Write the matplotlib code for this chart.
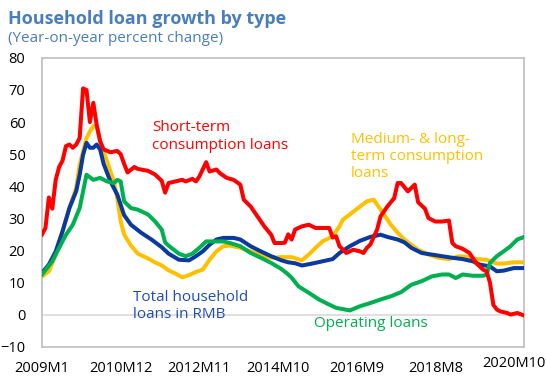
import numpy as np
import matplotlib
matplotlib.use("Agg")
import matplotlib.pyplot as plt

plt.rcParams['font.family'] = ['Open Sans', 'DejaVu Sans']

# months counted from 2009M1 (0) to 2020M10 (141)
tick_pos = [0, 23, 46, 69, 92, 115]
tick_labels = ['2009M1', '2010M12', '2012M11', '2014M10', '2016M9', '2018M8']
last_label = '2020M10'

short_m = [0, 1, 2, 3, 4, 5, 6, 7, 8, 9, 10, 11, 12, 13, 14, 15, 16, 17, 18, 20,
           22, 23, 24, 25, 27, 28, 31, 33, 35, 36, 37, 39, 41, 42, 44, 45, 46, 48,
           49, 51, 52, 54, 56, 58, 59, 61, 63, 65, 67, 68, 70, 71, 72, 73, 74, 76,
           78, 80, 82, 84, 85, 86, 87, 89, 91, 93, 94, 95, 96, 98, 99, 101, 103,
           104, 105, 107, 109, 110, 112, 113, 115, 117, 119, 120, 121, 123, 125,
           127, 129, 130, 131, 132, 133, 134, 136, 137, 139, 141]
short_v = [25, 27, 36.5, 33, 42, 46, 48, 52.5, 53, 52, 53, 55, 70.5, 70, 60, 66,
           59, 54, 51.5, 50.6, 51, 50, 47, 44.3, 46, 45.4, 44.8, 43.7, 41.7, 38,
           41, 41.5, 42, 41.5, 42.3, 41.5, 43, 47.5, 44.6, 45.2, 44.1, 42.6, 42,
           40.5, 35.8, 33.7, 30.6, 27.5, 24.9, 22.3, 22.3, 22.4, 25, 23.4, 26.5,
           27.5, 28, 27, 27, 27, 24, 24.4, 21.3, 19.2, 20.2, 19.7, 19.2, 20.8,
           21.8, 26.5, 30.6, 33.7, 36.3, 41, 41, 38.4, 40.5, 35, 33, 30.1, 29, 29,
           29.3, 22.3, 21.3, 20.5, 19.2, 16, 14, 13.5, 10, 3, 1.6, 1.0, 0.5, 0,
           0.5, -0.3]

medlong_m = [0, 2, 4, 6, 8, 10, 11, 13, 14, 15, 16, 17, 19, 21, 22, 23, 24, 26,
             28, 31, 33, 35, 37, 39, 41, 43, 45, 47, 49, 51, 53, 55, 58, 61, 64,
             67, 70, 73, 76, 78, 80, 82, 85, 87, 88, 90, 93, 95, 97, 98, 100, 102,
             104, 106, 107, 110, 113, 116, 119, 122, 124, 127, 130, 133, 135, 138,
             141]
medlong_v = [11.9, 13.5, 18.7, 26, 33.2, 39.5, 46.7, 55, 57.1, 58.7, 58.7, 54,
             47.8, 41.5, 36.3, 29.1, 25, 21.5, 19, 17.5, 16.3, 15.3, 13.8, 12.8,
             11.6, 12.3, 13.3, 14, 17.1, 19.7, 21.3, 21.5, 20.8, 19.7, 18.7, 17.7,
             17.9, 17.9, 16.9, 18.7, 20.8, 22.8, 24.4, 27.5, 29.6, 31.2, 33.7, 35.3,
             35.8, 34.3, 31.2, 28, 25.5, 23.4, 22.5, 20.2, 18.7, 17.7, 17.3, 18.2,
             18, 17.3, 17.1, 15.9, 15.9, 16.3, 16.3]

total_m = [0, 2, 4, 6, 8, 10, 11, 12, 13, 14, 15, 16, 17, 18, 20, 22, 24, 26, 29,
           32, 35, 37, 40, 43, 45, 47, 49, 51, 53, 56, 58, 61, 64, 67, 70, 72, 74,
           76, 79, 82, 85, 87, 90, 93, 96, 99, 101, 104, 106, 108, 111, 114, 117,
           120, 123, 126, 128, 131, 133, 135, 138, 141]
total_v = [13, 15.6, 19.7, 26, 33.2, 38.5, 43.6, 49.8, 53.5, 52, 52, 53, 51.4, 47,
           41.5, 37.4, 31, 28, 25.5, 23.4, 21, 19, 17.1, 16.9, 18.2, 19.7, 21.8,
           23.4, 23.9, 23.9, 23.4, 21.3, 19.7, 18.2, 16.9, 16.3, 16, 15.3, 15.9,
           16.6, 17.3, 19.2, 21.3, 23, 24.2, 24.9, 24.2, 23.4, 22.5, 20.8, 19.2,
           18.7, 18.2, 17.7, 17.3, 16.6, 15.6, 15, 13.5, 13.7, 14.5, 14.5]

oper_m = [0, 3, 5, 7, 9, 11, 12, 13, 15, 17, 19, 21, 22, 23, 24, 26, 28, 31, 33,
          35, 36, 37, 40, 42, 44, 46, 48, 50, 53, 55, 58, 61, 64, 67, 70, 72, 73,
          75, 78, 81, 84, 86, 90, 93, 96, 99, 102, 105, 108, 111, 114, 117, 119,
          121, 123, 126, 129, 130, 131, 133, 135, 137, 139, 141]
oper_v = [12.5, 16.6, 20.8, 24.9, 28, 33.2, 38.4, 43.6, 42, 42.6, 41.5, 41, 42,
          41.5, 35.3, 33.2, 32.7, 31.2, 29.1, 26.5, 22.5, 21.5, 19, 18.2, 19, 20.8,
          22.8, 22.8, 22.8, 22.3, 21.3, 19.2, 17.7, 16.1, 14.2, 12.5, 11.5, 8.8,
          6.8, 4.7, 3.1, 2.1, 1.3, 2.6, 3.6, 4.7, 5.7, 7, 9.3, 10.4, 11.9, 12.5,
          12.5, 11.4, 12.5, 12.1, 12.1, 12.5, 16.1, 18.2, 19.7, 21.3, 23.4, 24.2]

red = '#FF0000'
yellow = '#FFC000'
blue = '#0A3A9E'
green = '#00B050'

fig = plt.figure(figsize=(5.46, 3.76), dpi=100)
ax = fig.add_axes([0.077, 0.078, 0.883, 0.768])

lw = 2.9
ax.axhline(0, color='#D9D9D9', lw=1.2, zorder=1)
ax.plot(medlong_m, medlong_v, color=yellow, lw=lw, zorder=2)
ax.plot(total_m, total_v, color=blue, lw=lw, zorder=3)
ax.plot(oper_m, oper_v, color=green, lw=lw, zorder=4)
ax.plot(short_m, short_v, color=red, lw=lw, zorder=5)

ax.set_xlim(0, 141)
ax.set_ylim(-10, 80)
ax.set_yticks(range(-10, 81, 10))
ax.set_xticks(tick_pos)
ax.set_xticklabels(tick_labels)
ax.tick_params(axis='both', length=0, labelsize=10.5, colors='#000000')
ax.tick_params(axis='y', pad=12)
ax.tick_params(axis='x', pad=10)
for s in ax.spines.values():
    s.set_color('#BFBFBF')
    s.set_linewidth(1.2)

# last category label sits at the right edge
fig.text(1.0, 0.012, last_label, ha='right', va='bottom', fontsize=10.5)

ax.text(32.3, 55.5, 'Short-term\nconsumption loans', color=red, fontsize=11,
        ha='left', va='center')
ax.text(90.3, 49.2, 'Medium- & long-\nterm consumption\nloans', color=yellow,
        fontsize=11, ha='left', va='center')
ax.text(26.7, 2.6, 'Total household\nloans in RMB', color='#1F4DB0', fontsize=11,
        ha='left', va='center')
ax.text(79.5, -2.8, 'Operating loans', color=green, fontsize=11,
        ha='left', va='center')

fig.text(0.015, 0.95, 'Household loan growth by type', color='#4A7EBB',
         fontsize=13, fontweight='bold', ha='left', va='center')
fig.text(0.015, 0.898, '(Year-on-year percent change)', color='#4A7EBB',
         fontsize=11, ha='left', va='center')

fig.savefig('out.png', dpi=100)
